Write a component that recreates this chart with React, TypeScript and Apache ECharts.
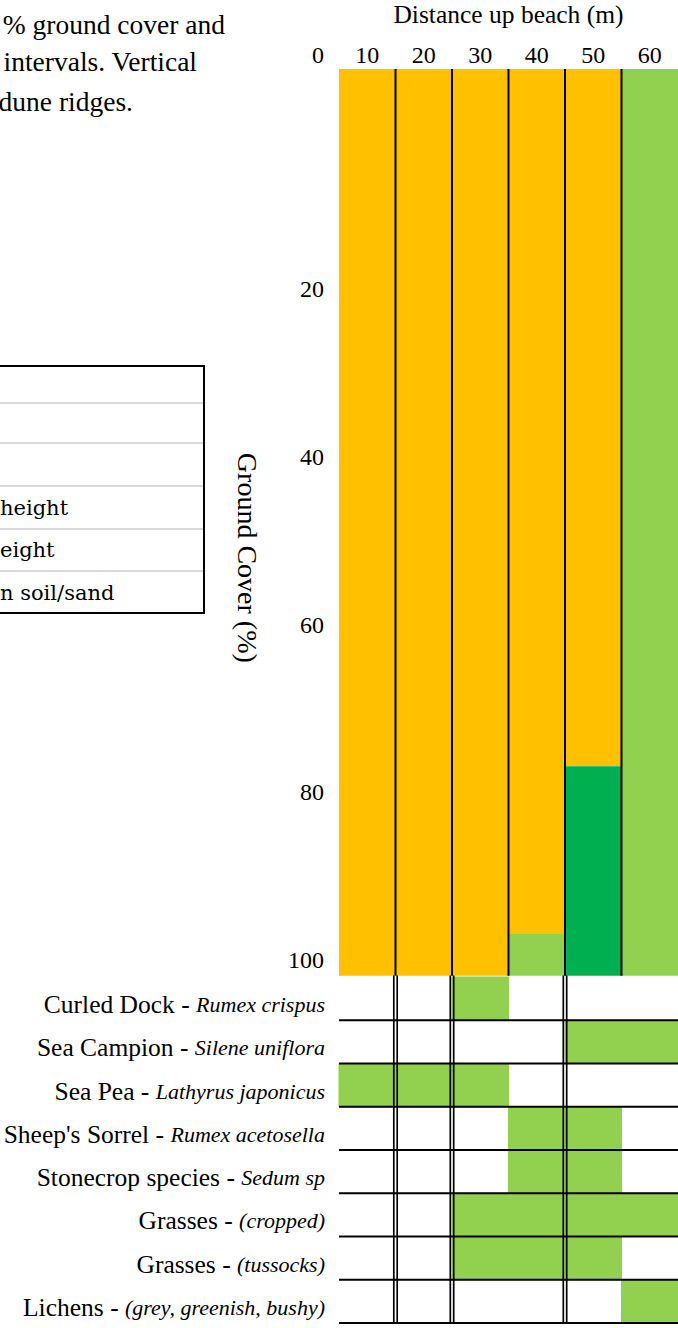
import React, { useEffect, useRef } from "react";
import * as echarts from "echarts";

// ---- data ----
const distances = ["10", "20", "30", "40", "50", "60"];
const bareSand = [100, 100, 100, 95.4, 76.9, 0];
const lowVegetation = [0, 0, 0, 4.6, 0, 100];
const tallVegetation = [0, 0, 0, 0, 23.1, 0];
const coverTicks = [0, 20, 40, 60, 80, 100];

const speciesCommon = [
  "Curled Dock",
  "Sea Campion",
  "Sea Pea",
  "Sheep's Sorrel",
  "Stonecrop species",
  "Grasses",
  "Grasses",
  "Lichens",
];
const speciesLatin = [
  "Rumex crispus",
  "Silene uniflora",
  "Lathyrus japonicus",
  "Rumex acetosella",
  "Sedum sp",
  "(cropped)",
  "(tussocks)",
  "(grey, greenish, bushy)",
];
const presence = [
  [0, 0, 1, 0, 0, 0],
  [0, 0, 0, 0, 1, 1],
  [1, 1, 1, 0, 0, 0],
  [0, 0, 0, 1, 1, 0],
  [0, 0, 0, 1, 1, 0],
  [0, 0, 1, 1, 1, 1],
  [0, 0, 1, 1, 1, 0],
  [0, 0, 0, 0, 0, 1],
];
const columnDividers = [1, 2, 3, 4, 5];
const ridgeDividers = [1, 2, 4];

const introLines = ["% ground cover and", "intervals. Vertical", "dune ridges."];
const legendTexts = ["height", "eight", "n soil/sand"];

const SERIF = "Liberation Serif";
const ORANGE = "#FFC000";
const LIGHT_GREEN = "#92D050";
const DARK_GREEN = "#00B050";

export default function App() {
  const ref = useRef<HTMLDivElement>(null);

  useEffect(() => {
    if (!ref.current) return;
    const chart = echarts.init(ref.current, undefined, { renderer: "svg" });

    const speciesLabels = speciesCommon.map((c, i) => c + " - " + speciesLatin[i]);
    const cells: number[][] = [];
    presence.forEach((row, r) =>
      row.forEach((v, c) => {
        if (v) cells.push([c, r]);
      })
    );

    const option: any = {
      animation: false,
      backgroundColor: "#fff",
      textStyle: { fontFamily: SERIF, color: "#000" },
      grid: [
        { left: 339, top: 69, width: 339, height: 906.7, outerBoundsMode: "none", containLabel: false },
        { left: 339, top: 121.6, width: 339, height: 838.4, outerBoundsMode: "none", containLabel: false },
        { left: 339, top: 977, width: 339, height: 346, outerBoundsMode: "none", containLabel: false },
      ],
      xAxis: [
        {
          gridIndex: 0,
          type: "category",
          data: distances,
          position: "top",
          axisLine: { show: false },
          axisTick: { show: false },
          splitLine: { show: false },
          axisLabel: { fontSize: 24, fontFamily: SERIF, color: "#000", margin: 2 },
          name: "Distance up beach (m)",
          nameLocation: "middle",
          nameGap: 42,
          nameTextStyle: { fontSize: 25.5, fontFamily: SERIF, color: "#000" },
        },
        { gridIndex: 1, type: "category", data: distances, show: false },
        { gridIndex: 2, type: "category", data: distances, show: false },
      ],
      yAxis: [
        { gridIndex: 0, type: "value", inverse: true, min: 0, max: 100, show: false },
        {
          gridIndex: 1,
          type: "value",
          inverse: true,
          min: coverTicks[0],
          max: coverTicks[coverTicks.length - 1],
          interval: coverTicks[1] - coverTicks[0],
          axisLine: { show: false },
          axisTick: { show: false },
          splitLine: { show: false },
          axisLabel: {
            margin: 15,
            formatter: (v: number) => (v === coverTicks[0] ? "{top|" + v + "}" : "{n|" + v + "}"),
            rich: {
              n: { fontSize: 24, fontFamily: SERIF, color: "#000" },
              top: { fontSize: 24, fontFamily: SERIF, color: "#000", padding: [0, 0, 133, 0] },
            },
          },
          name: "Ground Cover (%)",
          nameLocation: "middle",
          nameRotate: -90,
          nameGap: 78,
          nameTextStyle: { fontSize: 28, fontFamily: SERIF, color: "#000", padding: [0, 0, 0, 34] },
        },
        {
          gridIndex: 2,
          type: "category",
          inverse: true,
          data: speciesLabels,
          axisLine: { show: false },
          axisTick: { show: false },
          splitLine: { show: false },
          axisLabel: {
            margin: 14,
            padding: [12, 0, 0, 0],
            formatter: (_v: string, i: number) =>
              "{c|" + speciesCommon[i] + " - }{i|" + speciesLatin[i] + "}",
            rich: {
              c: { fontSize: 25.5, fontFamily: SERIF, color: "#000" },
              i: { fontSize: 22, fontFamily: SERIF, fontStyle: "italic", color: "#000" },
            },
          },
        },
      ],
      series: [
        {
          name: "Bare sand",
          type: "bar",
          xAxisIndex: 0,
          yAxisIndex: 0,
          stack: "cover",
          data: bareSand,
          barCategoryGap: "0%",
          itemStyle: { color: ORANGE },
        },
        {
          name: "Low vegetation",
          type: "bar",
          xAxisIndex: 0,
          yAxisIndex: 0,
          stack: "cover",
          data: lowVegetation,
          barCategoryGap: "0%",
          itemStyle: { color: LIGHT_GREEN },
        },
        {
          name: "Tall vegetation",
          type: "bar",
          xAxisIndex: 0,
          yAxisIndex: 0,
          stack: "cover",
          data: tallVegetation,
          barCategoryGap: "0%",
          itemStyle: { color: DARK_GREEN },
        },
        {
          name: "Column dividers",
          type: "custom",
          xAxisIndex: 0,
          yAxisIndex: 0,
          data: columnDividers.map((b) => [b, 0]),
          encode: { x: 0, y: 1 },
          z: 5,
          renderItem: (params: any, api: any) => {
            const b = api.value(0);
            const band = api.size([1, 0])[0];
            const top = api.coord([b, 0]);
            const bottom = api.coord([b, 100]);
            const x = top[0] - band / 2;
            return {
              type: "line",
              shape: { x1: x, y1: top[1], x2: x, y2: bottom[1] },
              style: { stroke: "#000", lineWidth: 2 },
            };
          },
        },
        {
          name: "Species cells",
          type: "custom",
          xAxisIndex: 2,
          yAxisIndex: 2,
          data: cells,
          encode: { x: 0, y: 1 },
          renderItem: (params: any, api: any) => {
            const c = api.coord([api.value(0), api.value(1)]);
            const s = api.size([1, 1]);
            return {
              type: "rect",
              shape: { x: c[0] - s[0] / 2, y: c[1] - s[1] / 2, width: s[0], height: s[1] },
              style: { fill: LIGHT_GREEN, stroke: LIGHT_GREEN, lineWidth: 1 },
            };
          },
        },
        {
          name: "Row lines",
          type: "custom",
          xAxisIndex: 2,
          yAxisIndex: 2,
          data: speciesLabels.map((_s, r) => [0, r]),
          encode: { x: 0, y: 1 },
          z: 6,
          renderItem: (params: any, api: any) => {
            const cs = params.coordSys;
            const c = api.coord([0, api.value(1)]);
            const s = api.size([1, 1]);
            const y = c[1] + s[1] / 2;
            return {
              type: "line",
              shape: { x1: cs.x, y1: y, x2: cs.x + cs.width, y2: y },
              style: { stroke: "#000", lineWidth: 2 },
            };
          },
        },
        {
          name: "Ridge dividers",
          type: "custom",
          xAxisIndex: 2,
          yAxisIndex: 2,
          data: ridgeDividers.map((b) => [b, 0]),
          encode: { x: 0, y: 1 },
          z: 7,
          renderItem: (params: any, api: any) => {
            const cs = params.coordSys;
            const c = api.coord([api.value(0), 0]);
            const s = api.size([1, 1]);
            const x = c[0] - s[0] / 2;
            return {
              type: "group",
              children: [-1.7, 1.7].map((d) => ({
                type: "line",
                shape: { x1: x + d, y1: cs.y - 1.5, x2: x + d, y2: cs.y + cs.height },
                style: { stroke: "#000", lineWidth: 1.7 },
              })),
            };
          },
        },
      ],
      graphic: [
        ...introLines.map((t, i) => ({
          type: "text",
          x: [225, 197, 133][i],
          y: [24, 61, 101][i],
          style: {
            text: t,
            fontSize: 27.5,
            fontFamily: SERIF,
            fill: "#000",
            align: "right",
            verticalAlign: "middle",
          },
        })),
        {
          type: "rect",
          shape: { x: -10, y: 366, width: 214, height: 247 },
          style: { fill: "none", stroke: "#000", lineWidth: 2 },
        },
        ...[403, 443, 486, 529, 571].map((y) => ({
          type: "line",
          shape: { x1: 0, y1: y, x2: 203, y2: y },
          style: { stroke: "#d9d9d9", lineWidth: 2 },
        })),
        ...legendTexts.map((t, i) => ({
          type: "text",
          x: 0,
          y: [508, 550, 593][i],
          style: {
            text: t,
            fontSize: 21,
            fontFamily: "DejaVu Serif",
            fill: "#000",
            align: "left",
            verticalAlign: "middle",
          },
        })),
      ],
    };

    chart.setOption(option);
    return () => chart.dispose();
  }, []);

  return (
    <div
      ref={ref}
      style={{ position: "absolute", left: 0, top: 0, width: 678, height: 1328, background: "#fff" }}
    />
  );
}
